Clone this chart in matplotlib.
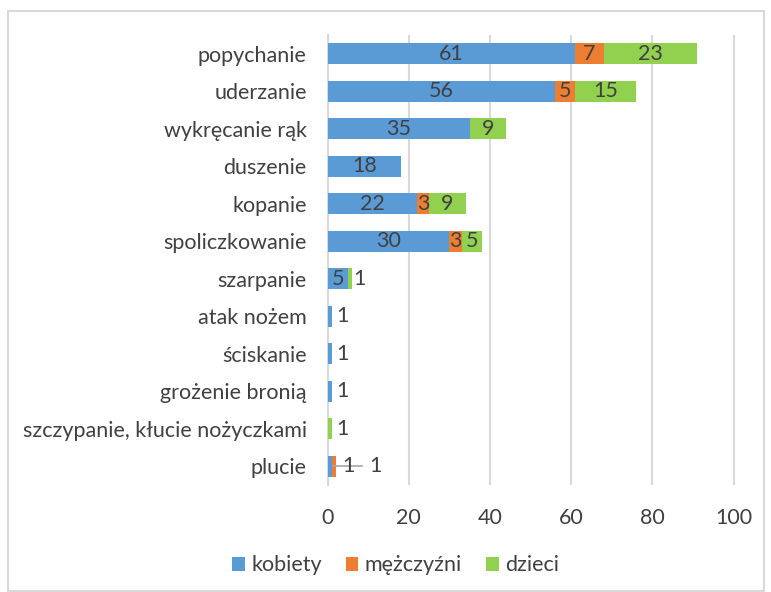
import matplotlib
matplotlib.use("Agg")
import matplotlib.pyplot as plt
import numpy as np
from matplotlib.patches import Rectangle

categories = ["popychanie", "uderzanie", "wykręcanie rąk", "duszenie", "kopanie",
              "spoliczkowanie", "szarpanie", "atak nożem", "ściskanie",
              "grożenie bronią", "szczypanie, kłucie nożyczkami", "plucie"]
kobiety = [61, 56, 35, 18, 22, 30, 5, 1, 1, 1, 0, 1]
mezczyzni = [7, 5, 0, 0, 3, 3, 0, 0, 0, 0, 0, 1]
dzieci = [23, 15, 9, 0, 9, 5, 1, 0, 0, 0, 1, 0]
series_names = ["kobiety", "mężczyźni", "dzieci"]
colors = ["#5B9BD5", "#ED7D31", "#92D050"]
xticks = [0, 20, 40, 60, 80, 100]

plt.rcParams['font.family'] = ['Lato', 'DejaVu Sans']
txt = "#404040"

fig = plt.figure(figsize=(7.71, 5.92), dpi=100)
ax = fig.add_axes([0.425, 0.181, 0.529, 0.760])

y = np.arange(len(categories))
left = np.zeros(len(categories))
fs = 15.5
for vals, c, name in zip([kobiety, mezczyzni, dzieci], colors, series_names):
    vals = np.array(vals, dtype=float)
    ax.barh(y, vals, left=left, height=0.56, color=c, label=name, zorder=3)
    left = left + vals

# data labels inside segments
for i in range(len(categories)):
    vals_row = [kobiety[i], mezczyzni[i], dzieci[i]]
    lft = 0
    for v in vals_row:
        if v >= 3:
            ax.text(lft + v / 2, i, str(v), ha="center", va="center", fontsize=fs, color=txt, zorder=5)
        lft += v

# small labels placed outside
ax.text(7.9, 6, "1", ha="center", va="center", fontsize=fs, color=txt, zorder=5)
for i in [7, 8, 9, 10]:
    ax.text(3.7, i, "1", ha="center", va="center", fontsize=fs, color=txt, zorder=5)
# plucie with leader line
ax.plot([1.3, 8.5], [11, 11], color="#A6A6A6", lw=1.2, zorder=4)
ax.text(5.2, 11, "1", ha="center", va="center", fontsize=fs, color=txt, zorder=5)
ax.text(11.8, 11, "1", ha="center", va="center", fontsize=fs, color=txt, zorder=5)

ax.set_xlim(0, 100.5)
ax.set_ylim(len(categories) - 0.5, -0.5)
ax.set_yticks(y)
ax.set_yticklabels(categories, fontsize=fs, color=txt)
ax.set_xticks(xticks)
ax.set_xticklabels([str(t) for t in xticks], fontsize=fs, color=txt)
ax.tick_params(axis="y", length=0, pad=15)
ax.tick_params(axis="x", length=0, pad=17)
ax.xaxis.grid(True, color="#D9D9D9", lw=1.5, zorder=0)
ax.set_axisbelow(True)
for s in ["top", "right", "bottom"]:
    ax.spines[s].set_visible(False)
ax.spines["left"].set_color("#D9D9D9")
ax.spines["left"].set_linewidth(1.5)

leg = fig.legend(loc="center", bbox_to_anchor=(0.513, 0.045), ncol=3, frameon=False,
                 fontsize=fs, handlelength=0.6, handleheight=0.6, columnspacing=1.1,
                 handletextpad=0.3)
for t in leg.get_texts():
    t.set_color(txt)

# chart border
fig.patches.append(Rectangle((8 / 771, 0.001), 756 / 771, 1 - 11 / 592 - 0.001,
                             transform=fig.transFigure,
                             fill=False, edgecolor="#D9D9D9", lw=1.5))

fig.savefig("out.png", dpi=100)
